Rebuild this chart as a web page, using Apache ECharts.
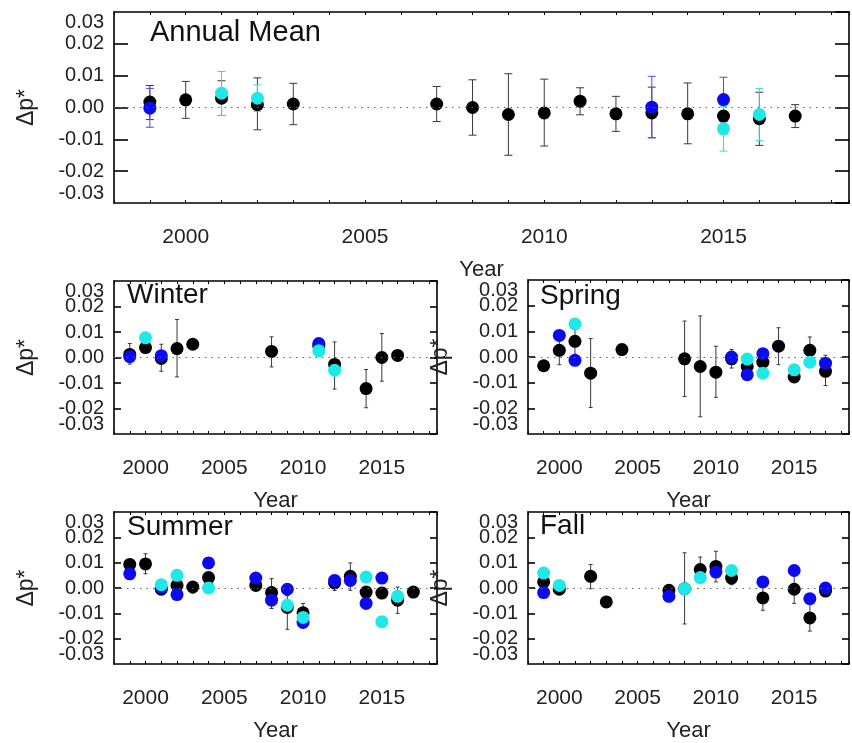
<!DOCTYPE html>
<html><head><meta charset="utf-8">
<script src="https://cdn.jsdelivr.net/npm/echarts@6/dist/echarts.min.js"></script>
<style>html,body{margin:0;background:#fff}#c{width:852px;height:743px}</style>
</head><body><div id="c"></div>
<script>
// ---- data: [year, value, errLow, errHigh] ----
const xLabelYears = [2000, 2005, 2010, 2015];
const yTickLabels = ['-0.03','-0.02','-0.01','0.00','0.01','0.02','0.03'];
const panelTitles = ['Annual Mean','Winter','Spring','Summer','Fall'];

const annualBlack = [[1999,0.0017,-0.0038,0.0069],[2000,0.0024,-0.0034,0.0082],[2001,0.0029,-0.0025,0.0084],[2002,0.0009,-0.0070,0.0093],[2003,0.0011,-0.0054,0.0076],[2007,0.0011,-0.0044,0.0066],[2008,0.0000,-0.0087,0.0087],[2009,-0.0022,-0.0150,0.0106],[2010,-0.0017,-0.0121,0.0089],[2011,0.0020,-0.0023,0.0062],[2012,-0.0020,-0.0075,0.0035],[2013,-0.0017,-0.0095,0.0064],[2014,-0.0020,-0.0114,0.0077],[2015,-0.0027,-0.0082,0.0025],[2016,-0.0035,-0.0119,0.0048],[2017,-0.0027,-0.0063,0.0009]];
const annualBlue = [[1999,-0.0002,-0.0062,0.0060],[2013,0.0001,-0.0095,0.0098],[2015,0.0025,-0.0045,0.0095]];
const annualCyan = [[2001,0.0045,-0.0025,0.0113],[2002,0.0029,-0.0012,0.0071],[2015,-0.0067,-0.0137,0.0003],[2016,-0.0022,-0.0104,0.0060]];

const winterBlack = [[1999,0.0012,-0.0026,0.0055],[2000,0.0039],[2001,-0.0004,-0.0054,0.0052],[2002,0.0035,-0.0076,0.0149],[2003,0.0052],[2008,0.0024,-0.0037,0.0081],[2011,0.0045],[2012,-0.0027,-0.0124,0.0061],[2014,-0.0122,-0.0197,-0.0047],[2015,0.0000,-0.0093,0.0094],[2016,0.0008]];
const winterBlue = [[1999,0.0003],[2001,0.0007],[2011,0.0055]];
const winterCyan = [[2000,0.0077],[2011,0.0026],[2012,-0.0050]];

const springBlack = [[1999,-0.0034],[2000,0.0026,-0.0030,0.0075],[2001,0.0061,0.0010,0.0110],[2002,-0.0063,-0.0197,0.0072],[2004,0.0029],[2008,-0.0007,-0.0154,0.0140],[2009,-0.0037,-0.0233,0.0160],[2010,-0.0059,-0.0157,0.0042],[2011,-0.0007,-0.0043,0.0029],[2012,-0.0037],[2013,-0.0020],[2014,0.0042,-0.0030,0.0114],[2015,-0.0078],[2016,0.0026,-0.0010,0.0078],[2017,-0.0056,-0.0111,0.0007]];
const springBlue = [[2000,0.0084],[2001,-0.0013],[2011,0.0000],[2012,-0.0069],[2013,0.0013],[2017,-0.0024]];
const springCyan = [[2001,0.0129],[2012,-0.0008],[2013,-0.0063],[2015,-0.0050],[2016,-0.0020]];

const summerBlack = [[1999,0.0093],[2000,0.0095,0.0056,0.0135],[2001,-0.0005],[2002,0.0010],[2003,0.0004,-0.0020,0.0025],[2004,0.0041],[2007,0.0010],[2008,-0.0018,-0.0081,0.0037],[2009,-0.0077,-0.0163,-0.0030],[2010,-0.0098,-0.0125,-0.0061],[2012,0.0020,-0.0010,0.0050],[2013,0.0046,-0.0009,0.0099],[2014,-0.0016],[2015,-0.0020],[2016,-0.0048,-0.0100,0.0004],[2017,-0.0016]];
const summerBlue = [[1999,0.0056],[2001,0.0001],[2002,-0.0026],[2004,0.0099],[2007,0.0039],[2008,-0.0048],[2009,-0.0005],[2010,-0.0136],[2012,0.0030],[2013,0.0030],[2014,-0.0061],[2015,0.0039]];
const summerCyan = [[2001,0.0013],[2002,0.0050],[2004,0.0000],[2009,-0.0068],[2010,-0.0116],[2014,0.0043],[2015,-0.0133],[2016,-0.0033]];

const fallBlack = [[1999,0.0024],[2000,-0.0005],[2002,0.0046,-0.0003,0.0093],[2003,-0.0055],[2007,-0.0009],[2008,-0.0003,-0.0142,0.0139],[2009,0.0073,0.0030,0.0122],[2010,0.0085,0.0024,0.0145],[2011,0.0039,0.0013,0.0060],[2013,-0.0039,-0.0088,0.0010],[2015,-0.0005,-0.0061,0.0060],[2016,-0.0118,-0.0170,-0.0060],[2017,-0.0012,-0.0030,0.0010]];
const fallBlue = [[1999,-0.0018],[2007,-0.0033],[2010,0.0063],[2013,0.0024],[2015,0.0069],[2016,-0.0042],[2017,0.0000]];
const fallCyan = [[1999,0.0059],[2000,0.0010],[2008,-0.0003],[2009,0.0041],[2011,0.0069]];

// ---- layout / style ----
const FONT = 'Liberation Sans, Helvetica, Arial, sans-serif';
const colors = {black:'#000000', blue:'#0b0bee', cyan:'#1ee8e8'};
const errColors = {black:'#3a3a3a', blue:'#4a4af5', cyan:'#3cd8d8'};
const panels = [
  {title:panelTitles[0], data:[annualBlack,annualBlue,annualCyan], grid:{left:114,top:12,width:736,height:191}, ytick:14, cap:4, titlePos:{left:150,top:18}, tsize:29},
  {title:panelTitles[1], data:[winterBlack,winterBlue,winterCyan], grid:{left:114,top:281,width:323,height:153}, ytick:7, cap:2, titlePos:{left:127,top:281}, tsize:28},
  {title:panelTitles[2], data:[springBlack,springBlue,springCyan], grid:{left:528,top:280,width:322,height:154}, ytick:7, cap:2, titlePos:{left:540,top:282}, tsize:28},
  {title:panelTitles[3], data:[summerBlack,summerBlue,summerCyan], grid:{left:114,top:512,width:323,height:152}, ytick:7, cap:2, titlePos:{left:127,top:513}, tsize:28},
  {title:panelTitles[4], data:[fallBlack,fallBlue,fallCyan], grid:{left:528,top:512,width:322,height:152}, ytick:7, cap:2, titlePos:{left:540,top:512}, tsize:28}
];
const keys = ['black','blue','cyan'];

const option = {animation:false, backgroundColor:'#fff', title:[], grid:[], xAxis:[], yAxis:[], series:[]};
const axisLine = {show:true, onZero:false, lineStyle:{color:'#000', width:1.6}};
const yLab = v => yTickLabels[Math.round(v*100)+3];

panels.forEach((p, i) => {
  option.title.push({text:p.title, left:p.titlePos.left, top:p.titlePos.top, padding:0,
    textStyle:{fontFamily:FONT, fontSize:p.tsize, fontWeight:'normal', color:'#111'}});
  option.grid.push(Object.assign({containLabel:false}, p.grid));
  const xBase = {type:'value', gridIndex:i, min:1998, max:2018.5, interval:1, splitLine:{show:false}, axisLine};
  option.xAxis.push(Object.assign({}, xBase, {position:'bottom', name:'Year', nameLocation:'middle', nameGap:56,
    nameTextStyle:{fontFamily:FONT, fontSize:22, color:'#222'},
    axisTick:{inside:true, length:3, lineStyle:{color:'#000', width:1}},
    axisLabel:{margin:24, fontFamily:FONT, fontSize:21, color:'#222',
      formatter: v => xLabelYears.includes(Math.round(v)) && Math.abs(v-Math.round(v))<1e-6 ? String(Math.round(v)) : ''}}));
  option.xAxis.push(Object.assign({}, xBase, {position:'top', axisLabel:{show:false},
    axisTick:{inside:true, length:3, lineStyle:{color:'#000', width:1}}}));
  const yBase = {type:'value', gridIndex:i, min:-0.03, max:0.03, interval:0.01, splitLine:{show:false}, axisLine,
    axisTick:{inside:true, length:p.ytick, lineStyle:{color:'#000', width:1.6}}};
  const labStyle = {margin:10, fontFamily:FONT, fontSize:20, color:'#222'};
  // left axis: inner labels
  option.yAxis.push(Object.assign({}, yBase, {position:'left', name:'\u0394p*', nameLocation:'middle', nameGap:76, nameRotate:90,
    nameTextStyle:{fontFamily:FONT, fontSize:23, color:'#222'},
    axisLabel:Object.assign({}, labStyle, {showMinLabel:false, showMaxLabel:false, formatter: yLab})}));
  // right axis (ticks only)
  option.yAxis.push(Object.assign({}, yBase, {position:'right', axisLabel:{show:false}}));
  // left overlay axis: only end labels (-0.03 / 0.03), shifted inward like the original
  option.yAxis.push(Object.assign({}, yBase, {position:'left', axisLine:{show:false, onZero:false}, axisTick:{show:false},
    axisLabel:Object.assign({}, labStyle, {showMinLabel:true, showMaxLabel:true, hideOverlap:false,
      verticalAlignMaxLabel:'top', verticalAlignMinLabel:'bottom',
      formatter: v => (Math.abs(Math.abs(v)-0.03) < 1e-9 ? yLab(v) : '')})}));

  const xi = i*2, yi = i*3;
  // zero dotted line
  option.series.push({type:'scatter', xAxisIndex:xi, yAxisIndex:yi, data:[], silent:true,
    markLine:{silent:true, symbol:'none', label:{show:false}, animation:false,
      lineStyle:{color:'#666', width:1.2, type:[1.5,5]}, data:[{yAxis:0}]}});
  // error bars
  keys.forEach((k, ki) => {
    const cap = p.cap, col = errColors[k];
    option.series.push({type:'custom', xAxisIndex:xi, yAxisIndex:yi, z:2, silent:true,
      data: p.data[ki].filter(d => d.length >= 4).map(d => [d[0], d[2], d[3]]),
      renderItem: (params, api) => {
        const x = api.value(0);
        const a = api.coord([x, api.value(2)]), b = api.coord([x, api.value(1)]);
        const st = {stroke:col, lineWidth:1};
        return {type:'group', children:[
          {type:'line', shape:{x1:a[0], y1:a[1], x2:b[0], y2:b[1]}, style:st},
          {type:'line', shape:{x1:a[0]-cap, y1:a[1], x2:a[0]+cap, y2:a[1]}, style:st},
          {type:'line', shape:{x1:b[0]-cap, y1:b[1], x2:b[0]+cap, y2:b[1]}, style:st}
        ]};
      }});
  });
  // points
  keys.forEach((k, ki) => {
    option.series.push({type:'scatter', xAxisIndex:xi, yAxisIndex:yi, z:3+ki, symbol:'circle', symbolSize:13,
      itemStyle:{color:colors[k], opacity:1}, data: p.data[ki].map(d => [d[0], d[1]])});
  });
});

const chart = echarts.init(document.getElementById('c'), null, {renderer:'canvas'});
chart.setOption(option);
</script></body></html>
